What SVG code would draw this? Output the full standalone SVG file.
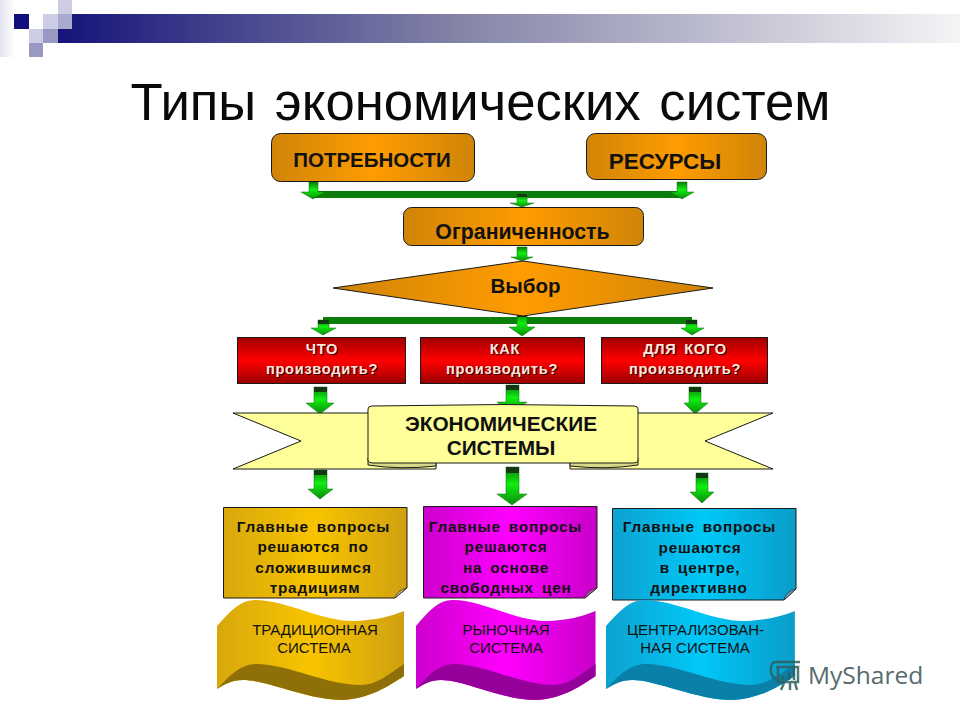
<svg xmlns="http://www.w3.org/2000/svg" width="960" height="720" viewBox="0 0 960 720">
<defs>
<linearGradient id="bar" x1="0" x2="1" y1="0" y2="0"><stop offset="0" stop-color="#14147a"/><stop offset="0.45" stop-color="#8585a8"/><stop offset="1" stop-color="#f4f4f6"/></linearGradient>
<linearGradient id="fade" x1="0" x2="1" y1="0" y2="0"><stop offset="0" stop-color="#e2e2f0"/><stop offset="1" stop-color="#ffffff"/></linearGradient>
<linearGradient id="orange" x1="0" x2="1" y1="0" y2="0"><stop offset="0" stop-color="#d08408"/><stop offset="0.5" stop-color="#ff9c00"/><stop offset="1" stop-color="#d08408"/></linearGradient>
<linearGradient id="red" x1="0" x2="0" y1="0" y2="1"><stop offset="0" stop-color="#a00000"/><stop offset="0.5" stop-color="#ff0000"/><stop offset="1" stop-color="#9a0000"/></linearGradient>
<linearGradient id="gold" x1="0" x2="1" y1="0" y2="0"><stop offset="0" stop-color="#d8a80c"/><stop offset="0.5" stop-color="#f8c400"/><stop offset="1" stop-color="#d0a010"/></linearGradient>
<linearGradient id="mag" x1="0" x2="1" y1="0" y2="0"><stop offset="0" stop-color="#cc00cc"/><stop offset="0.5" stop-color="#ff00ff"/><stop offset="1" stop-color="#c800c8"/></linearGradient>
<linearGradient id="blue" x1="0" x2="1" y1="0" y2="0"><stop offset="0" stop-color="#0ea2d0"/><stop offset="0.5" stop-color="#00c8f8"/><stop offset="1" stop-color="#0a9cc8"/></linearGradient>
<linearGradient id="arr" x1="0" x2="0" y1="0" y2="1"><stop offset="0" stop-color="#0a7a0a"/><stop offset="0.45" stop-color="#10f010"/><stop offset="1" stop-color="#0a8a0a"/></linearGradient>
<path id="waveTop" d="M0,26 C14,10 24,0 38,0 C70,0 105,22 139,21 C158,20 172,17 187,11 L187,76 C172,86 152,99 125,100 C90,100 50,80 26,80 C15,80 8,84 0,89 Z"/>
<path id="waveLow" d="M0,89 C14,74 24,64 40,64 C70,64 110,85 143,85 C160,85 172,74 187,64 L187,76 C172,86 152,99 125,100 C90,100 50,80 26,80 C15,80 8,84 0,89 Z"/>
</defs>
<style>
.box{stroke:#1a1a1a;stroke-width:1}
.lab{font-family:"Liberation Sans",Arial,sans-serif;font-weight:bold;fill:#111;text-anchor:middle}
.note{font-size:15.3px;letter-spacing:.8px;word-spacing:3px}
.red{font-size:14.6px;letter-spacing:.7px;word-spacing:3px;fill:#ffe4dc}
.redsh{font-size:14.6px;letter-spacing:.7px;word-spacing:3px;fill:#300000}
.wav{font-family:"Liberation Sans",Arial,sans-serif;font-size:15px;fill:#111;text-anchor:middle}
.ar{fill:url(#arr);stroke:#0a6a0a;stroke-width:.5}
.top{fill:#123a12}
.hb{fill:#0a7d0a}
.wm{fill:none;stroke:#2f5f5f;stroke-width:2.5;opacity:.85}
</style>
<rect width="960" height="720" fill="#fff"/>
<g id="header">
<rect x="0" y="0" width="14" height="57" fill="url(#fade)"/>
<rect x="58" y="14" width="902" height="29" fill="url(#bar)"/>
<rect x="14" y="14" width="15" height="15" fill="#10107c"/>
<rect x="43" y="14" width="15" height="15" fill="#ccccE4"/>
<rect x="58" y="0" width="14" height="14" fill="#ccccE4"/>
<rect x="58" y="14" width="14" height="15" fill="#aaaacc"/>
<rect x="29" y="29" width="14" height="14" fill="#ccccE4"/>
<rect x="43" y="29" width="15" height="14" fill="#9999c4"/>
<rect x="29" y="43" width="14" height="14" fill="#9999c4"/>
</g>
<text id="title" x="480.500" y="120" text-anchor="middle" font-family="'Liberation Sans',Arial,sans-serif" font-size="52.700" word-spacing="4" fill="#0a0a0a">Типы экономических систем</text>
<g id="connectors">
<rect class="hb" x="314" y="191" width="369" height="7"/>
<rect class="hb" x="323" y="317" width="369" height="7"/>
<path class="ar" d="M309,182H318V192H325L313,199L301,192H309Z"/>
<path class="ar" d="M677,182H687V192H694L682,199L670,192H677Z"/>
<path class="ar" d="M517,195H527V203H534L522,207L510,203H517Z"/>
<rect class="top" x="517" y="194" width="10" height="3"/>
<path class="ar" d="M517,247H527V257H533L522,261L511,257H517Z"/>
<path class="ar" d="M318,320H329V328H336L323,335L311,328H318Z"/>
<rect class="top" x="318" y="320" width="11" height="4"/>
<path class="ar" d="M517,313H527V327H535L522,336L509,327H517Z"/>
<rect class="top" x="517" y="313" width="10" height="4"/>
<path class="ar" d="M686,320H697V328H704L692,335L681,328H686Z"/>
<rect class="top" x="686" y="320" width="11" height="4"/>
<path class="ar" d="M314,387H327V403H334L320,414L306,403H314Z"/>
<rect class="top" x="314" y="387" width="13" height="5"/>
<path class="ar" d="M506,385H519V402H527L512,413L497,402H506Z"/>
<rect class="top" x="506" y="385" width="13" height="5"/>
<path class="ar" d="M689,387H701V403H708L695,414L684,403H689Z"/>
<rect class="top" x="689" y="387" width="12" height="5"/>
<path class="ar" d="M314,470H327V489H333L320,499L308,489H314Z"/>
<rect class="top" x="314" y="470" width="13" height="5"/>
<path class="ar" d="M506,467H519V494H527L512,505L497,494H506Z"/>
<rect class="top" x="506" y="467" width="13" height="6"/>
<path class="ar" d="M696,473H708V492H714L702,503L690,492H696Z"/>
<rect class="top" x="696" y="473" width="12" height="5"/>
</g>
<g id="potrebnosti"><rect class="box" x="271.500" y="133.500" width="203" height="48" rx="9" fill="url(#orange)"/><text class="lab" x="372" y="167" font-size="20.500">ПОТРЕБНОСТИ</text></g>
<g id="resursy"><rect class="box" x="586.500" y="133.500" width="180" height="46" rx="9" fill="url(#orange)"/><text class="lab" x="665" y="169" font-size="22.500">РЕСУРСЫ</text></g>
<g id="ogranichennost"><rect class="box" x="403.500" y="207.500" width="240" height="38" rx="8" fill="url(#orange)"/><text class="lab" x="522.500" y="239" font-size="21.300">Ограниченность</text></g>
<g id="vybor"><polygon class="box" points="333,288 523,261 713,288 523,316" fill="url(#orange)"/><text class="lab" x="525.500" y="293" font-size="20.500">Выбор</text></g>
<g id="q1"><rect class="box" x="237.500" y="337.500" width="168" height="46" fill="url(#red)"/><text class="lab redsh" x="323" y="355">ЧТО</text><text class="lab redsh" x="323" y="375">производить?</text><text class="lab red" x="322" y="354">ЧТО</text><text class="lab red" x="322" y="374">производить?</text></g>
<g id="q2"><rect class="box" x="420.500" y="337.500" width="164" height="46" fill="url(#red)"/><text class="lab redsh" x="506" y="355">КАК</text><text class="lab redsh" x="503" y="375">производить?</text><text class="lab red" x="505" y="354">КАК</text><text class="lab red" x="502" y="374">производить?</text></g>
<g id="q3"><rect class="box" x="601.500" y="337.500" width="166" height="46" fill="url(#red)"/><text class="lab redsh" x="686" y="355">ДЛЯ КОГО</text><text class="lab redsh" x="686" y="375">производить?</text><text class="lab red" x="685" y="354">ДЛЯ КОГО</text><text class="lab red" x="685" y="374">производить?</text></g>
<g id="systems">
<polygon class="box" points="233,413 436,413 436,469 233,469 301,441" fill="#ffff99"/>
<polygon class="box" points="773,413 570,413 570,469 773,469 705,441" fill="#ffff99"/>
<path class="box" d="M368,458 V465 Q400,470 436,466 V458Z" fill="#d8d88a"/>
<path class="box" d="M570,458 V466 Q606,470 638,465 V458Z" fill="#d8d88a"/>
<path class="box" d="M368,409 Q368,406 372,406 Q503,403 634,406 Q638,406 638,409 V460 Q638,463 632,463 H374 Q368,463 368,460Z" fill="#ffff99"/>
<text class="lab" x="501" y="431" font-size="20.800">ЭКОНОМИЧЕСКИЕ</text>
<text class="lab" x="501" y="455" font-size="20.800">СИСТЕМЫ</text>
</g>
<g id="note1"><path class="box" d="M223.500,507.500 H407 V588 L395,598 H223.500Z" fill="url(#gold)"/><path d="M407,588 L395,598 Q397,590 407,588Z" fill="#c8b070" stroke="#333" stroke-width=".7"/>
<text class="lab note" x="313.500" y="532">Главные вопросы</text><text class="lab note" x="313" y="552">решаются по</text><text class="lab note" x="313.500" y="573">сложившимся</text><text class="lab note" x="315" y="593">традициям</text></g>
<g id="note2"><path class="box" d="M423.500,506.500 H597 V588 L585,598 H423.500Z" fill="url(#mag)"/><path d="M597,588 L585,598 Q587,590 597,588Z" fill="#a060a0" stroke="#333" stroke-width=".7"/>
<text class="lab note" x="505.500" y="532">Главные вопросы</text><text class="lab note" x="506" y="552">решаются</text><text class="lab note" x="506" y="573">на основе</text><text class="lab note" x="506" y="593">свободных цен</text></g>
<g id="note3"><path class="box" d="M612.500,508.500 H796 V589 L784,600 H612.500Z" fill="url(#blue)"/><path d="M796,589 L784,600 Q786,591 796,589Z" fill="#70a8c0" stroke="#223" stroke-width=".7"/>
<text class="lab note" x="699.500" y="532">Главные вопросы</text><text class="lab note" x="700" y="553">решаются</text><text class="lab note" x="700" y="573">в центре,</text><text class="lab note" x="699" y="593">директивно</text></g>
<g id="wave1"><g transform="translate(217,600)"><use href="#waveTop" fill="url(#gold)"/><use href="#waveLow" fill="#8f7008"/></g><text class="wav" x="315" y="635">ТРАДИЦИОННАЯ</text><text class="wav" x="314" y="653">СИСТЕМА</text></g>
<g id="wave2"><g transform="translate(416,600) scale(.96,1)"><use href="#waveTop" fill="url(#mag)"/><use href="#waveLow" fill="#96009a"/></g><text class="wav" x="506" y="635">РЫНОЧНАЯ</text><text class="wav" x="506" y="653">СИСТЕМА</text></g>
<g id="wave3"><g transform="translate(606,600) scale(1.01,1)"><use href="#waveTop" fill="url(#blue)"/><use href="#waveLow" fill="#0a7fa8"/></g><text class="wav" x="695.500" y="635">ЦЕНТРАЛИЗОВАН-</text><text class="wav" x="695" y="653">НАЯ СИСТЕМА</text></g>
<g id="watermark">
<path class="wm" d="M776,662 H800 M776,667 H798 V682 H778 V667 M776,662 Q770,662 771,672 Q772,678 776,678"/>
<path class="wm" d="M783,680V676M789,680V672M794,680V668M784,683L781,690M790,683V690M795,683L797,690"/>
<text x="808" y="684" font-family="'Open Sans','Noto Sans',sans-serif" font-size="24.500" fill="#566a6c">MyShared</text>
</g>
</svg>
